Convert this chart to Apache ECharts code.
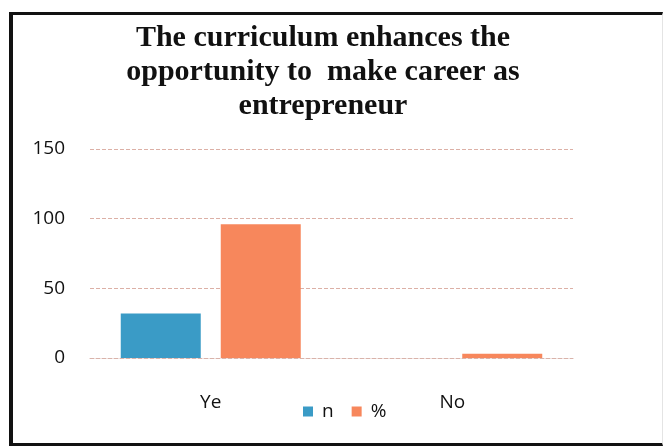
<!DOCTYPE html>
<html>
<head>
<meta charset="utf-8">
<script src="https://cdn.jsdelivr.net/npm/echarts@6/dist/echarts.min.js"></script>
<style>
  html, body { margin: 0; padding: 0; background: #fff; }
  #wrap { position: relative; width: 665px; height: 448px; }
  #chart { width: 665px; height: 448px; }
  .frame {
    position: absolute; left: 9px; top: 12px; width: 649px; height: 428px;
    border-left: 4px solid #111; border-top: 3px solid #111; border-bottom: 3px solid #111;
    border-right: 1px solid #e4e4e4; pointer-events: none;
  }
</style>
</head>
<body>
<div id="wrap">
  <div id="chart"></div>
  <div class="frame"></div>
</div>
<script>
// values
var categories = ['Ye', 'No'];
var nValues = [32, 0];
var pctValues = [96, 3];
var yTicks = [0, 50, 100, 150];

var myChart = echarts.init(document.getElementById('chart'));
var option = {
  backgroundColor: '#fff',
  animation: false,
  title: {
    text: 'The curriculum enhances the\nopportunity to  make career as\nentrepreneur',
    left: 318,
    top: 16,
    textAlign: 'center',
    textStyle: {
      fontFamily: 'Liberation Serif',
      fontWeight: 'bold',
      fontSize: 30,
      lineHeight: 34,
      color: '#111'
    }
  },
  legend: {
    left: 298,
    top: 397,
    itemWidth: 10,
    itemHeight: 10,
    itemGap: 18,
    icon: 'rect',
    textStyle: { fontFamily: 'Open Sans', fontSize: 19, color: '#111', padding: [0, 0, 0, 4] },
    data: ['n', '%']
  },
  grid: { left: 90, right: 92, top: 149, bottom: 90 },
  xAxis: {
    type: 'category',
    data: categories,
    axisTick: { show: false },
    axisLine: { lineStyle: { color: '#d9b3aa', type: 'dashed', width: 1 } },
    axisLabel: { margin: 35, fontFamily: 'Open Sans', fontSize: 19, color: '#111' }
  },
  yAxis: {
    type: 'value',
    min: yTicks[0],
    max: yTicks[yTicks.length - 1],
    interval: 50,
    axisLine: { show: false },
    axisTick: { show: false },
    axisLabel: { margin: 25, fontFamily: 'Open Sans', fontSize: 19, color: '#111' },
    splitLine: { lineStyle: { color: '#dcb0a6', type: 'dashed', width: 1 } }
  },
  series: [{
    name: 'n',
    type: 'bar',
    data: nValues,
    barWidth: 80,
    barGap: '25%',
    itemStyle: { color: '#3a9bc6' }
  }, {
    name: '%',
    type: 'bar',
    data: pctValues,
    barWidth: 80,
    itemStyle: { color: '#f7875c' }
  }]
};
myChart.setOption(option, true);
</script>
</body>
</html>
